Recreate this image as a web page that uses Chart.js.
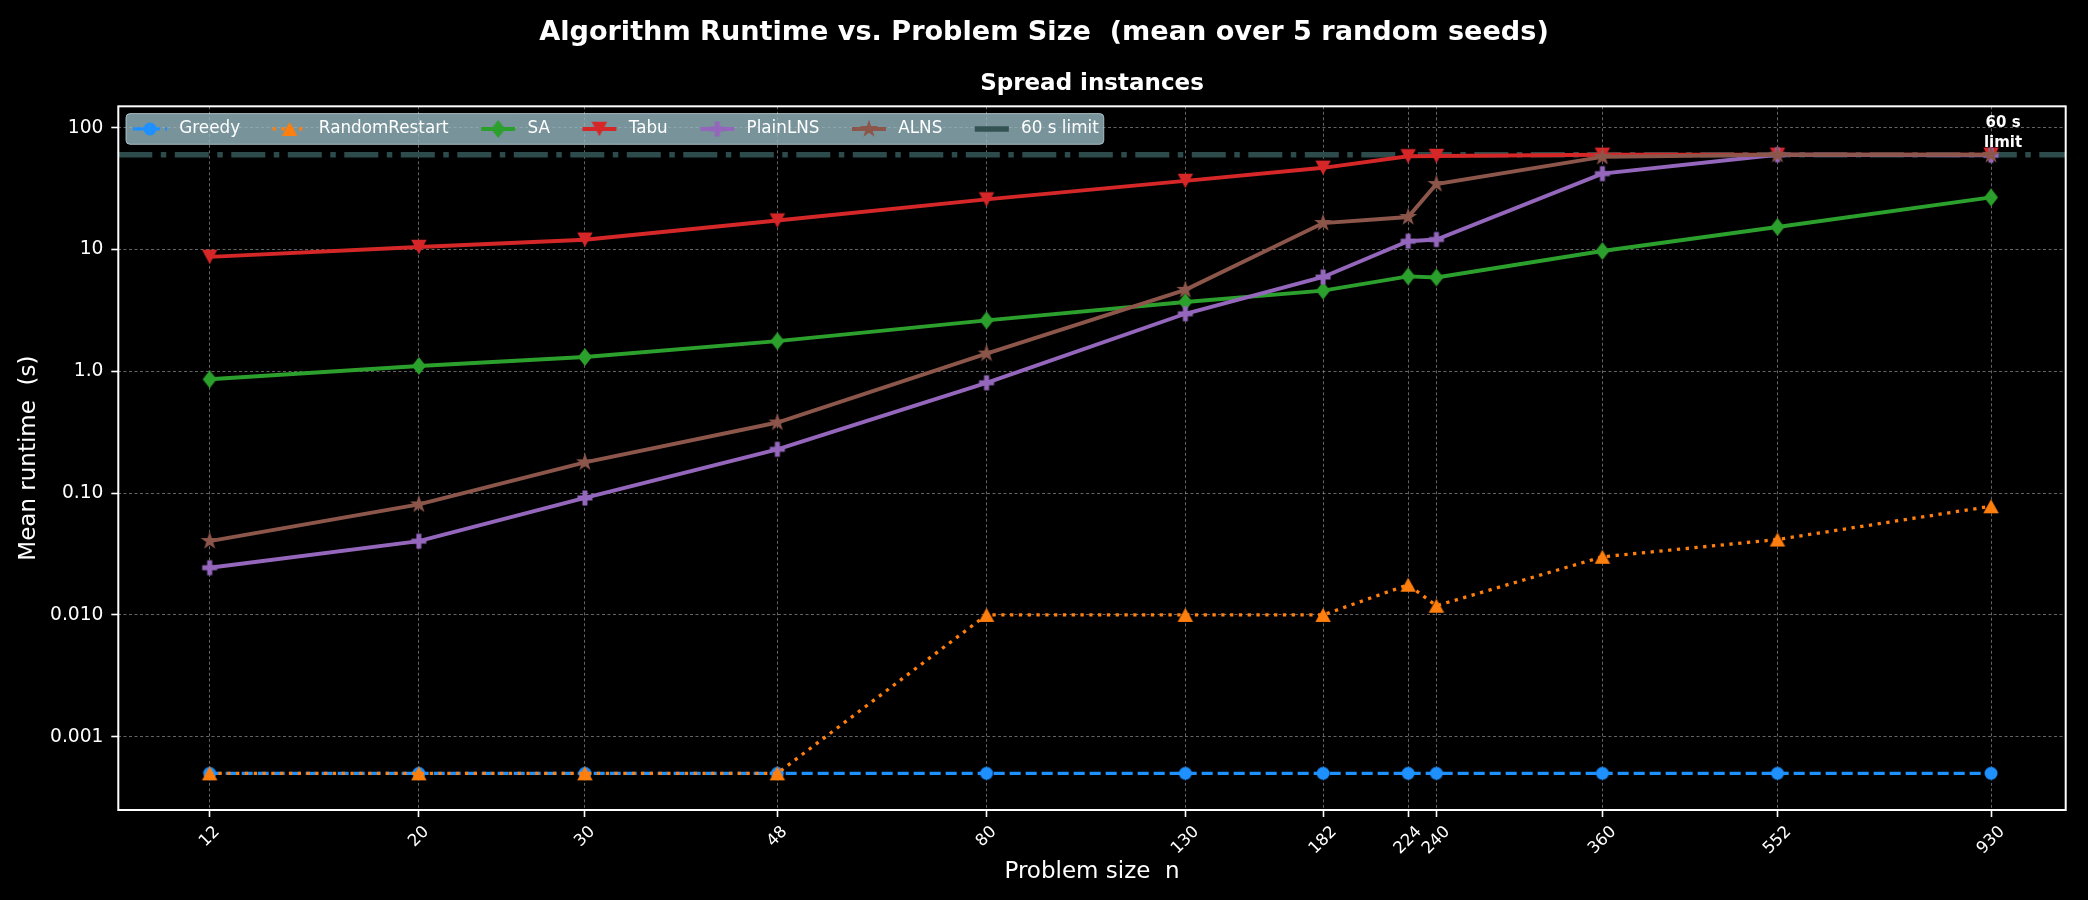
<!DOCTYPE html>
<html>
<head>
<meta charset="utf-8">
<script src="https://cdn.jsdelivr.net/npm/chart.js@4.4.1/dist/chart.umd.min.js"></script>
<style>
  html, body { margin: 0; padding: 0; background: #000; }
  canvas { display: block; background: #000; }
</style>
</head>
<body>
<canvas id="chart" width="2088" height="900"></canvas>
<script>
// ---------------- data ----------------
const SIZES = [12, 20, 30, 48, 80, 130, 182, 224, 240, 360, 552, 930];
const X_TICK_LABELS = ['12', '20', '30', '48', '80', '130', '182', '224', '240', '360', '552', '930'];
const GREEDY = [0.0005, 0.0005, 0.0005, 0.0005, 0.0005, 0.0005, 0.0005, 0.0005, 0.0005, 0.0005, 0.0005, 0.0005];
const RANDOM_RESTART = [0.0005, 0.0005, 0.0005, 0.0005, 0.010, 0.010, 0.010, 0.0177, 0.0119, 0.030, 0.0416, 0.078];
const SA = [0.86, 1.107, 1.31, 1.77, 2.62, 3.71, 4.6, 6.02, 5.9, 9.72, 15.3, 26.8];
const TABU = [8.7, 10.5, 12.05, 17.3, 25.8, 36.6, 46.9, 58.3, 58.7, 60.0, 60.0, 60.0];
const PLAIN_LNS = [0.0244, 0.0403, 0.0912, 0.229, 0.805, 2.97, 5.95, 11.7, 12.1, 42.0, 60.0, 59.5];
const ALNS = [0.0404, 0.0808, 0.179, 0.38, 1.40, 4.67, 16.5, 18.5, 34.5, 57.7, 60.0, 60.0];
const SERIES_NAMES = ['Greedy', 'RandomRestart', 'SA', 'Tabu', 'PlainLNS', 'ALNS'];
const TIME_LIMIT = 60;
const LIMIT_LABEL = '60 s limit';
const LIMIT_ANNOTATION = ['60 s', 'limit'];
const Y_TICKS = [0.001, 0.01, 0.1, 1, 10, 100];
const Y_TICK_LABELS = ['0.001', '0.010', '0.10', '1.0', '10', '100'];
const TITLE = 'Algorithm Runtime vs. Problem Size  (mean over 5 random seeds)';
const SUBTITLE = 'Spread instances';
const X_LABEL = 'Problem size  n';
const Y_LABEL = 'Mean runtime  (s)';
const X_MIN = 9.6, X_MAX = 1116;
const Y_MIN = 0.00025, Y_MAX = 150;

// ---------------- marker shapes (matplotlib-like) ----------------
function makeMarker(kind, color, w, h) {
  const cw = 2 * Math.ceil(w / 2 + 2), ch = 2 * Math.ceil(h / 2 + 2);
  const c = document.createElement('canvas');
  c.width = cw; c.height = ch;
  const g = c.getContext('2d');
  g.translate(cw / 2, ch / 2);
  g.fillStyle = color;
  g.beginPath();
  const hw = w / 2, hh = h / 2;
  if (kind === 'circle') {
    g.arc(0, 0, hw, 0, Math.PI * 2);
  } else if (kind === 'triUp') {
    g.moveTo(0, -hh); g.lineTo(hw, hh); g.lineTo(-hw, hh);
  } else if (kind === 'triDown') {
    g.moveTo(0, hh); g.lineTo(hw, -hh); g.lineTo(-hw, -hh);
  } else if (kind === 'diamond') {
    g.moveTo(0, -hh); g.lineTo(hw, 0); g.lineTo(0, hh); g.lineTo(-hw, 0);
  } else if (kind === 'plus') {
    const a = w / 6, b = h / 6;
    g.moveTo(-a, -hh); g.lineTo(a, -hh); g.lineTo(a, -b); g.lineTo(hw, -b);
    g.lineTo(hw, b); g.lineTo(a, b); g.lineTo(a, hh); g.lineTo(-a, hh);
    g.lineTo(-a, b); g.lineTo(-hw, b); g.lineTo(-hw, -b); g.lineTo(-a, -b);
  } else if (kind === 'star') {
    const r = hw, ri = r * 0.381966;
    for (let i = 0; i < 10; i++) {
      const ang = -Math.PI / 2 + i * Math.PI / 5;
      const rr = i % 2 === 0 ? r : ri;
      const px = Math.cos(ang) * rr, py = Math.sin(ang) * rr;
      if (i === 0) g.moveTo(px, py); else g.lineTo(px, py);
    }
  }
  g.closePath();
  g.fill();
  return c;
}

const COLORS = ['#1e90ff', '#ff7f0e', '#2ca02c', '#d62728', '#9467bd', '#8c564b'];
const LIMIT_COLOR = 'rgba(47,79,79,0.95)';

function series(vals) { return SIZES.map((x, i) => ({ x: x, y: vals[i] })); }

const datasets = [
  { label: SERIES_NAMES[0], data: series(GREEDY), borderColor: COLORS[0], borderWidth: 3.3, borderDash: [11, 5],
    pointStyle: makeMarker('circle', COLORS[0], 13, 13), order: 6 },
  { label: SERIES_NAMES[1], data: series(RANDOM_RESTART), borderColor: COLORS[1], borderWidth: 3.3, borderDash: [3.3, 5.5],
    pointStyle: makeMarker('triUp', COLORS[1], 15.5, 14), order: 5 },
  { label: SERIES_NAMES[2], data: series(SA), borderColor: COLORS[2], borderWidth: 3.9, borderDash: [],
    pointStyle: makeMarker('diamond', COLORS[2], 14, 18), order: 4 },
  { label: SERIES_NAMES[3], data: series(TABU), borderColor: COLORS[3], borderWidth: 3.9, borderDash: [],
    pointStyle: makeMarker('triDown', COLORS[3], 15.5, 14.5), order: 3 },
  { label: SERIES_NAMES[4], data: series(PLAIN_LNS), borderColor: COLORS[4], borderWidth: 3.9, borderDash: [],
    pointStyle: makeMarker('plus', COLORS[4], 15, 15), order: 2 },
  { label: SERIES_NAMES[5], data: series(ALNS), borderColor: COLORS[5], borderWidth: 3.9, borderDash: [],
    pointStyle: makeMarker('star', COLORS[5], 19, 19), order: 1 },
  { label: LIMIT_LABEL, data: [{ x: X_MIN, y: TIME_LIMIT }, { x: X_MAX, y: TIME_LIMIT }],
    borderColor: LIMIT_COLOR, borderWidth: 5.5, borderDash: [34, 8.5, 5.5, 8.5], pointRadius: 0, order: 7 }
];
datasets.forEach(d => {
  d.fill = false; d.tension = 0;
  if (d.pointRadius === undefined) { d.pointRadius = 6; d.pointHoverRadius = 6; }
});

const FONT = '"DejaVu Sans", "Liberation Sans", sans-serif';
Chart.defaults.font.family = FONT;
Chart.defaults.color = '#ffffff';

const GRID = { color: 'rgba(165,165,165,0.6)', lineWidth: 1, drawTicks: true, tickLength: 7,
               tickColor: '#ffffff', tickWidth: 1.6 };

// ---------------- extras plugin: frame, x tick labels, annotation, legend ----------------
const mplExtras = {
  id: 'mplExtras',
  afterDatasetsDraw(chart) {
    const { ctx, chartArea: a, scales: { x, y } } = chart;
    // axes frame
    ctx.save();
    ctx.strokeStyle = '#ffffff';
    ctx.lineWidth = 2;
    ctx.strokeRect(a.left, a.top, a.right - a.left, a.bottom - a.top);
    ctx.restore();

    // rotated x tick labels (centered below tick like matplotlib)
    ctx.save();
    const fs = 16.5;
    ctx.font = fs + 'px ' + FONT;
    ctx.fillStyle = '#ffffff';
    ctx.textAlign = 'center';
    ctx.textBaseline = 'middle';
    SIZES.forEach((v, i) => {
      const px = x.getPixelForValue(v);
      const w = ctx.measureText(X_TICK_LABELS[i]).width;
      const H = (w + fs * 1.17) * Math.SQRT1_2;
      const cy = a.bottom + 12.5 + H / 2;
      ctx.save();
      ctx.translate(px, cy);
      ctx.rotate(-Math.PI / 4);
      ctx.fillText(X_TICK_LABELS[i], 0, 0);
      ctx.restore();
    });
    ctx.restore();

    // annotation near limit line
    ctx.save();
    ctx.font = 'bold 15px ' + FONT;
    ctx.fillStyle = '#ffffff';
    ctx.textAlign = 'center';
    ctx.textBaseline = 'middle';
    const axp = x.getPixelForValue(SIZES[SIZES.length - 1]) + 12;
    const ayp = y.getPixelForValue(TIME_LIMIT);
    ctx.fillText(LIMIT_ANNOTATION[0], axp, ayp - 31.6);
    ctx.fillText(LIMIT_ANNOTATION[1], axp, ayp - 11.5);
    ctx.restore();

    // legend
    ctx.save();
    const lfs = 16.8;
    ctx.font = lfs + 'px ' + FONT;
    const handleLen = 34, textPad = 12.3, colSpace = 32.5;
    const boxL = a.left + 7.7, boxT = a.top + 7.3, boxH = 30.7;
    const metas = chart.data.datasets;
    const widths = metas.map(d => ctx.measureText(d.label).width);
    let total = 7;
    widths.forEach((w, i) => { total += handleLen + textPad + w + (i < widths.length - 1 ? colSpace : 0); });
    total += 5;
    ctx.beginPath();
    ctx.roundRect(boxL, boxT, total, boxH, 4);
    ctx.fillStyle = 'rgba(150,184,193,0.8)';
    ctx.fill();
    ctx.strokeStyle = 'rgba(190,210,215,0.8)';
    ctx.lineWidth = 1;
    ctx.stroke();
    const cyL = boxT + boxH / 2;
    let cx = boxL + 7;
    metas.forEach((d, i) => {
      ctx.save();
      ctx.beginPath();
      ctx.strokeStyle = d.borderColor;
      ctx.lineWidth = d.borderWidth;
      ctx.setLineDash(d.borderDash || []);
      ctx.moveTo(cx, cyL);
      ctx.lineTo(cx + handleLen, cyL);
      ctx.stroke();
      ctx.restore();
      if (d.pointStyle && typeof d.pointStyle === 'object') {
        const m = d.pointStyle;
        ctx.drawImage(m, cx + handleLen / 2 - m.width / 2, cyL - m.height / 2);
      }
      ctx.fillStyle = '#ffffff';
      ctx.textAlign = 'left';
      ctx.textBaseline = 'middle';
      ctx.fillText(d.label, cx + handleLen + textPad, cyL);
      cx += handleLen + textPad + widths[i] + colSpace;
    });
    ctx.restore();
  }
};

new Chart(document.getElementById('chart'), {
  type: 'line',
  data: { datasets: datasets },
  plugins: [mplExtras],
  options: {
    responsive: false,
    devicePixelRatio: 1,
    animation: false,
    layout: { padding: { left: 22.3, right: 22.3, top: 0, bottom: 0 } },
    plugins: {
      legend: { display: false },
      tooltip: { enabled: false },
      title: { display: true, text: TITLE, color: '#ffffff',
               font: { size: 27.1, weight: 'bold' }, padding: { top: 16.7, bottom: 0 } },
      subtitle: { display: true, text: SUBTITLE, color: '#ffffff', fullSize: false,
                  font: { size: 23, weight: 'bold' }, padding: { top: 21.2, bottom: 8.3 } }
    },
    scales: {
      x: {
        type: 'logarithmic', min: X_MIN, max: X_MAX,
        afterBuildTicks: s => { s.ticks = SIZES.map(v => ({ value: v })); },
        ticks: { display: false, autoSkip: false },
        grid: GRID,
        border: { display: false, dash: [3, 2.5] },
        title: { display: true, text: X_LABEL, color: '#ffffff', font: { size: 23 },
                 padding: { top: 0, bottom: 14.2 } },
        afterFit: s => { s.height = 90; }
      },
      y: {
        type: 'logarithmic', min: Y_MIN, max: Y_MAX,
        afterBuildTicks: s => { s.ticks = Y_TICKS.map(v => ({ value: v })); },
        ticks: { color: '#ffffff', font: { size: 18.7 }, padding: 7.8, autoSkip: false,
                 callback: (v, i) => Y_TICK_LABELS[i] },
        grid: GRID,
        border: { display: false, dash: [3, 2.5] },
        title: { display: true, text: Y_LABEL, color: '#ffffff', font: { size: 23, lineHeight: 0.6 },
                 padding: { top: 0.1, bottom: 0 } },
        afterFit: s => { s.width = 96; }
      }
    }
  }
});
</script>
</body>
</html>
